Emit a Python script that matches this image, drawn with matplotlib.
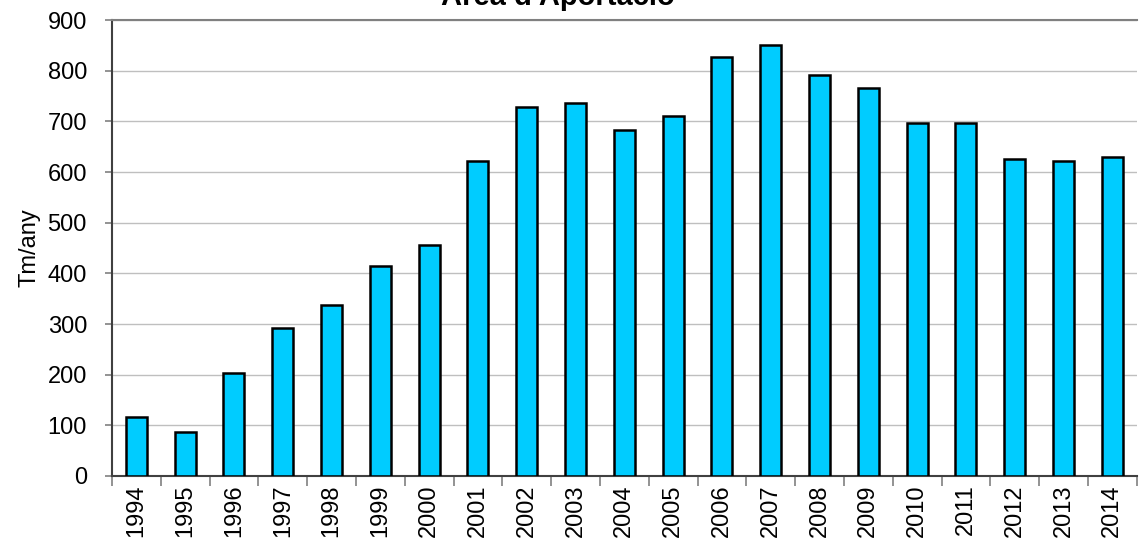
import numpy as np
import matplotlib
matplotlib.use("Agg")
import matplotlib.pyplot as plt

plt.rcParams["font.family"] = ["Liberation Sans", "DejaVu Sans"]

# ── Data ─────────────────────────────────────────────────────────────────────
years = ["1994", "1995", "1996", "1997", "1998", "1999", "2000", "2001",
         "2002", "2003", "2004", "2005", "2006", "2007", "2008", "2009",
         "2010", "2011", "2012", "2013", "2014"]
values = [117, 87, 203, 292, 337, 414, 455, 621, 728, 737, 683, 710,
          827, 850, 791, 765, 697, 697, 625, 621, 630]

BAR_COLOR = "#00CCFF"
GRID_COLOR = "#BFBFBF"
AXIS_COLOR = "#404040"
FS = 17

fig = plt.figure(figsize=(11.39, 5.47), dpi=100)
ax = fig.add_axes([0.0983, 0.1298, 0.8997, 0.8336])

x = np.arange(len(years))
ax.bar(x, values, width=0.43, color=BAR_COLOR, edgecolor="black",
       linewidth=1.8, zorder=3)

ax.set_xlim(-0.5, len(years) - 0.5)
ax.set_ylim(0, 900)
ax.set_yticks(np.arange(0, 901, 100))
ax.grid(axis="y", color=GRID_COLOR, linewidth=1.0, zorder=0)

ax.set_xticks(x)
ax.set_xticklabels(years, rotation=90, fontsize=FS)
ax.set_xticks(np.arange(-0.5, len(years)), minor=True)
ax.tick_params(axis="x", which="major", length=0, pad=6)
ax.tick_params(axis="x", which="minor", length=7, width=1.2, color="#808080",
               direction="out")
ax.tick_params(axis="y", labelsize=FS, length=5, width=1.2, color="#808080",
               pad=13)

for side in ("left", "bottom"):
    ax.spines[side].set_color(AXIS_COLOR)
    ax.spines[side].set_linewidth(1.5)
ax.spines["top"].set_color("#808080")
ax.spines["top"].set_linewidth(1.5)
ax.spines["right"].set_visible(False)

ax.set_ylabel("Tm/any", fontsize=FS, labelpad=5)

fig.text(0.49, 0.991, "Àrea d'Aportació", ha="center", va="baseline",
         fontsize=21, fontweight="bold")

fig.savefig("out.png", dpi=100, facecolor="white")
